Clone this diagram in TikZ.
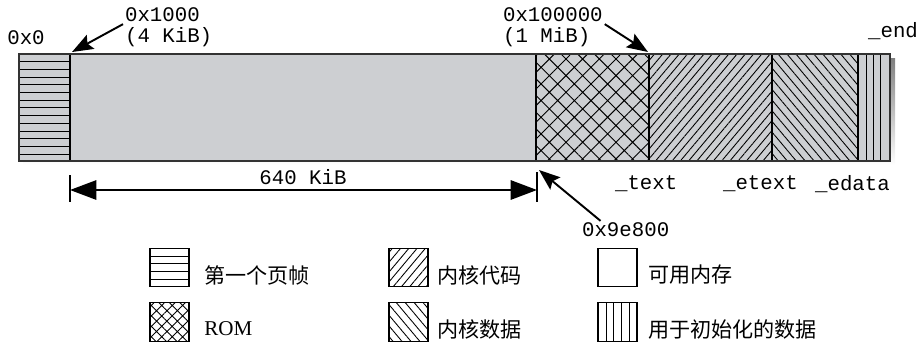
\documentclass[tikz,border=0pt]{standalone}
\usepackage{fontspec}
\setmainfont{Liberation Serif}
\setmonofont{Liberation Mono}
\newfontfamily\cjk{Noto Sans CJK SC}
\usetikzlibrary{arrows.meta,patterns.meta}
\definecolor{bargray}{RGB}{205,207,210}
\definecolor{shade}{RGB}{120,120,120}
\tikzset{
  addr/.style={font=\fontsize{11.8}{13}\selectfont\ttfamily, inner sep=1pt},
  pointer/.style={line width=1.1pt, -{Stealth[length=12pt,width=9pt,inset=2pt]}},
  span/.style={line width=1.1pt, {Triangle[length=15pt,width=11pt]}-{Triangle[length=15pt,width=11pt]}},
  legend/.style={font=\fontsize{12}{13}\selectfont\cjk, anchor=west, inner sep=0pt},
  keybox/.style={draw, line width=0.7pt, minimum width=0.78cm, minimum height=0.77cm, inner sep=0pt},
  rule/.style={line width=0.55pt},
  nelines/.style={pattern={Lines[angle=50,distance=3.6pt,line width=0.5pt]}},
  nwlines/.style={pattern={Lines[angle=130,distance=3.9pt,line width=0.5pt]}},
  xhatch/.style={pattern={Hatch[angle=45,distance=6.7pt,line width=0.55pt]}},
  xhatchs/.style={pattern={Hatch[angle=45,distance=4.2pt,line width=0.5pt]}},
}
\begin{document}
\begin{tikzpicture}[x=0.02cm,y=-0.02cm]
\useasboundingbox (0,0) rectangle (922,342);
\fill[shade] (23,58) rectangle (895,165);
\fill[bargray] (19,54) rectangle (890,161);
\foreach \k in {1,...,13} \draw[rule] (19,54+7.7*\k) -- (70,54+7.7*\k);
\path[xhatch] (536,54) rectangle (649,161);
\path[nelines] (649,54) rectangle (772,161);
\path[nwlines] (772,54) rectangle (858,161);
\foreach \x in {866,873,880} \draw[rule] (\x,54) -- (\x,161);
\draw[line width=0.7pt] (70,54) -- (70,161) (536,54) -- (536,161) (649,54) -- (649,161)
    (772,54) -- (772,161) (858,54) -- (858,161);
\draw[line width=0.8pt, black!80] (19,54) rectangle (890,161);
\coordinate (a1000) at (72,52);
\coordinate (a100000) at (648,52);
\coordinate (a9e800) at (539,170);
\coordinate (s0) at (70,190);
\coordinate (s1) at (537,190);
\node[addr] at(26,38)(l0){0x0};
\node[addr,anchor=west] at(123,15)(l1000){0x1000};
\node[addr,anchor=west] at(123,37)(k1000){(4 KiB)};
\node[addr,anchor=west] at(501,15)(l100000){0x100000};
\node[addr,anchor=west] at(501,37)(k100000){(1 MiB)};
\node[addr,anchor=west] at(866,31)(lend){\_end};
\node[addr] at(303,177)(l640){640 KiB};
\node[addr,anchor=west] at(613,184)(ltext){\_text};
\node[addr,anchor=west] at(721,184)(letext){\_etext};
\node[addr,anchor=west] at(813,184)(ledata){\_edata};
\node[addr,anchor=west] at(580,230)(l9e800){0x9e800};
\draw[pointer] (l1000.south west) -- (a1000);
\draw[pointer] (l100000.south east) -- (a100000);
\draw[pointer] (l9e800.160) -- (a9e800);
\draw[line width=1pt] (70,175) -- (70,202) (537,172) -- (537,202);
\draw[span] (s0) -- (s1);
\node[keybox] at(169.5,267.5)(kframe){};
\foreach \y in {256,263.5,271,279} \draw[rule] (150,\y) -- (189,\y);
\node[keybox,xhatchs] at(169.5,322)(krom){};
\node[keybox,nelines] at(408.5,267.5)(kcode){};
\node[keybox,nwlines] at(408.5,322)(kdata){};
\node[keybox] at(617.5,267.5)(kfree){};
\node[keybox] at(617.5,322)(kinit){};
\foreach \x in {606,613.5,621,629} \draw[rule] (\x,303) -- (\x,341);
\node[legend] at(204,275)(tframe){第一个页帧};
\node[legend,font=\fontsize{12}{13}\selectfont\rmfamily] at(204,329)(trom){ROM};
\node[legend] at(437,275)(tcode){内核代码};
\node[legend] at(437,329)(tdata){内核数据};
\node[legend] at(648,275)(tfree){可用内存};
\node[legend] at(648,329)(tinit){用于初始化的数据};
\end{tikzpicture}
\end{document}
